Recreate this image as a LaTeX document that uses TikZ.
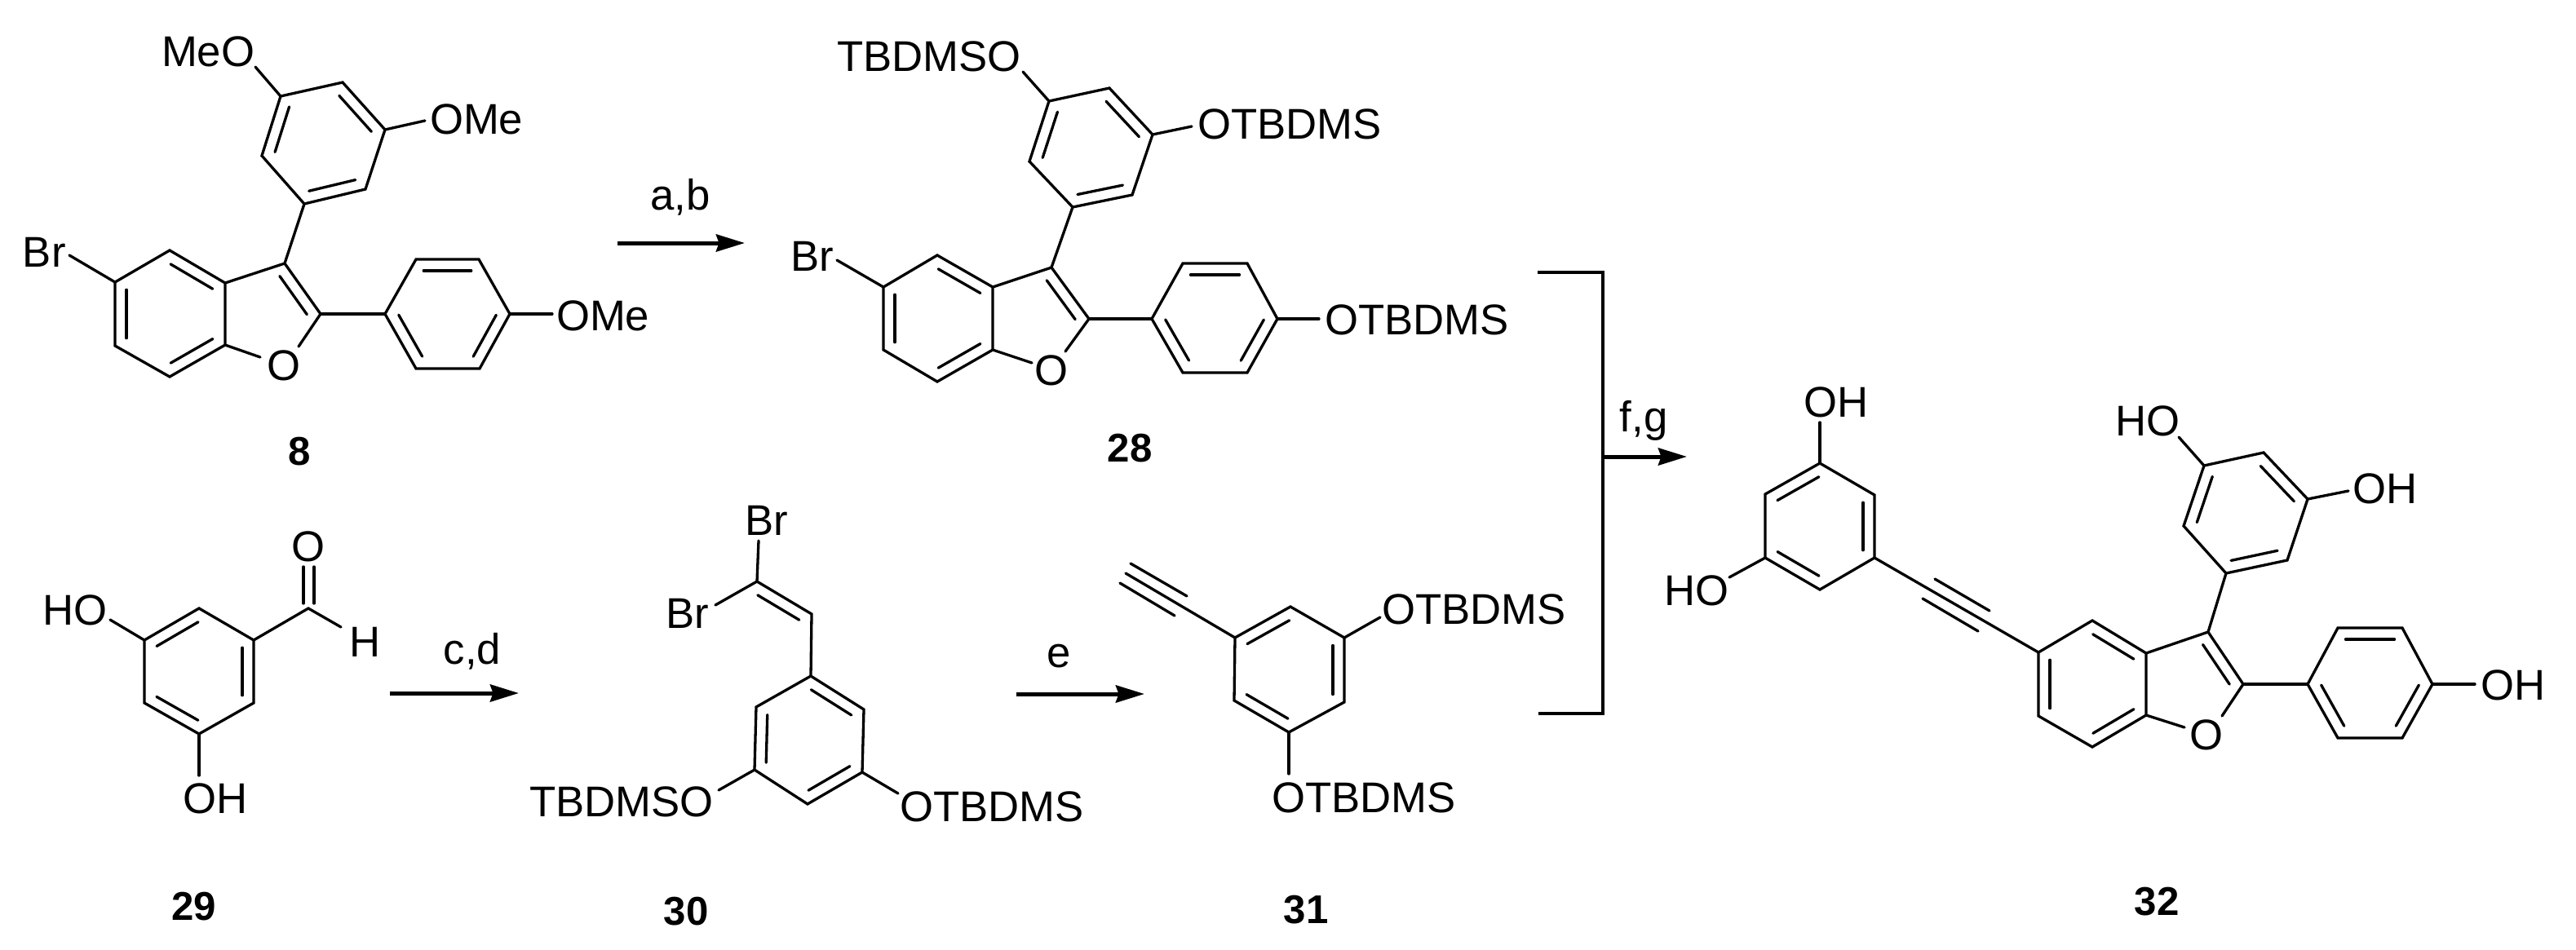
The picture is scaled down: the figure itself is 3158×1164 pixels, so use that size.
\documentclass[tikz,border=0pt]{standalone}
\usepackage{fontspec}
\setmainfont{Liberation Sans}
\usetikzlibrary{calc,arrows.meta}
\tikzset{
  bond/.style={line width=0.066cm,line cap=round,line join=miter},
  innerbond/.style={line width=0.066cm,line cap=round},
  rxn/.style={line width=0.1cm,-{Stealth[length=0.7cm,width=0.42cm,inset=0.07cm]}},
  brk/.style={line width=0.066cm,line join=miter},
  lab/.style={inner sep=0pt,outer sep=0pt,anchor=base west,font=\fontsize{30pt}{36pt}\selectfont},
  tb/.style={lab},
  cond/.style={inner sep=0pt,outer sep=0pt,anchor=base,font=\fontsize{30pt}{36pt}\selectfont},
  num/.style={inner sep=0pt,outer sep=0pt,anchor=base,font=\fontsize{28pt}{36pt}\selectfont\bfseries}
}
\newcommand{\dbond}[2]{\draw[innerbond] ($(#1)!.12!(#2)!0.28cm!-90:(#2)$) -- ($(#2)!.12!(#1)!0.28cm!90:(#1)$);}
\newcommand{\pts}[1]{\foreach \x/\y/\n in {#1}{\coordinate (\n) at (\x,\y);}}
\begin{document}
\begin{tikzpicture}[x=0.02cm,y=-0.02cm]
\useasboundingbox (0,0) rectangle (3158,1164);
% ---------- compound 8
\pts{344/118/a1,420/101/a2,472/159/a3,448/232/a4,373/250/a5,321/191/a6,313/82/a1e,521/148/a3e,
349/323/ac3,393/385/ac2,276/347/ac3a,276/423/ac7a,208/307/ac4,141/346/ac5,141/424/ac6,208/462/ac7,
319/438/aoa,366/425/aob,85/313/abr,472/385/ap1,510/318/ap2,587/318/ap3,625/385/ap4,588/452/ap5,510/452/ap6,677/385/ape}
\draw[bond] (a1)--(a2)--(a3)--(a4)--(a5)--(a6)--cycle;
\dbond{a2}{a3}\dbond{a4}{a5}\dbond{a6}{a1}
\draw[bond] (a1)--(a1e); \draw[bond] (a3)--(a3e); \draw[bond] (a5)--(ac3);
\draw[bond] (ac4)--(ac3a)--(ac7a)--(ac7)--(ac6)--(ac5)--cycle;
\draw[bond] (ac3a)--(ac3)--(ac2); \draw[bond] (ac7a)--(aoa); \draw[bond] (ac2)--(aob); \draw[bond] (ac5)--(abr);
\dbond{ac4}{ac3a}\dbond{ac7a}{ac7}\dbond{ac6}{ac5}\dbond{ac3}{ac2}
\draw[bond] (ap1)--(ap2)--(ap3)--(ap4)--(ap5)--(ap6)--cycle;
\dbond{ap2}{ap3}\dbond{ap4}{ap5}\dbond{ap6}{ap1}
\draw[bond] (ac2)--(ap1); \draw[bond] (ap4)--(ape);
\node[lab] (l8a) at (198,81) {MeO};
\node[lab] (l8b) at (527,164) {OMe};
\node[lab] (l8c) at (28,327) {Br};
\node[cond] (l8o) at (348,466) {O};
\node[lab] (l8d) at (682,405) {OMe};
\node[num] (n8) at (367,570) {8};
% ---------- compound 28
\pts{1286/124/b1,1360/108/b2,1413/165/b3,1388/239/b4,1315/254/b5,1262/198/b6,1254/88/b1e,1461/155/b3e,
1289/328/bc3,1335/391/bc2,1217/352/bc3a,1217/429/bc7a,1149/313/bc4,1083/352/bc5,1083/429/bc6,1149/468/bc7,
1265/445/boa,1306/431/bob,1026/319/bbr,1412/391/bp1,1450/323/bp2,1529/323/bp3,1566/391/bp4,1529/457/bp5,1450/457/bp6,1617/391/bpe}
\draw[bond] (b1)--(b2)--(b3)--(b4)--(b5)--(b6)--cycle;
\dbond{b2}{b3}\dbond{b4}{b5}\dbond{b6}{b1}
\draw[bond] (b1)--(b1e); \draw[bond] (b3)--(b3e); \draw[bond] (b5)--(bc3);
\draw[bond] (bc4)--(bc3a)--(bc7a)--(bc7)--(bc6)--(bc5)--cycle;
\draw[bond] (bc3a)--(bc3)--(bc2); \draw[bond] (bc7a)--(boa); \draw[bond] (bc2)--(bob); \draw[bond] (bc5)--(bbr);
\dbond{bc4}{bc3a}\dbond{bc7a}{bc7}\dbond{bc6}{bc5}\dbond{bc3}{bc2}
\draw[bond] (bp1)--(bp2)--(bp3)--(bp4)--(bp5)--(bp6)--cycle;
\dbond{bp2}{bp3}\dbond{bp4}{bp5}\dbond{bp6}{bp1}
\draw[bond] (bc2)--(bp1); \draw[bond] (bp4)--(bpe);
\node[tb] (l28a) at (1026,87) {TBDMSO};
\node[tb] (l28b) at (1468,170) {OTBDMS};
\node[lab] (l28c) at (969,332) {Br};
\node[cond] (l28o) at (1289,472) {O};
\node[tb] (l28d) at (1624,410) {OTBDMS};
\node[num] (n28) at (1385,566) {28};
% ---------- compound 29
\pts{177/785/c1,244/746/c2,311/785/c3,311/862/c4,244/900/c5,177/862/c6,378/746/cc,418/769/che,135/760/c1e,244/951/c5e,
372/740/co1,372/695/co2,385/740/co3,385/695/co4}
\draw[bond] (c1)--(c2)--(c3)--(c4)--(c5)--(c6)--cycle;
\dbond{c1}{c2}\dbond{c3}{c4}\dbond{c5}{c6}
\draw[bond] (c3)--(cc)--(che); \draw[bond] (c1)--(c1e); \draw[bond] (c5)--(c5e);
\draw[bond] (co1)--(co2); \draw[bond] (co3)--(co4);
\node[lab] (l29a) at (52,766) {HO};
\node[cond] (l29o) at (378,688) {O};
\node[lab] (l29h) at (428,805) {H};
\node[lab] (l29b) at (224,997) {OH};
\node[num] (n29) at (238,1128) {29};
% ---------- compound 30
\pts{925/944/d1,927/867/d2,994/829/d3,1059/870/d4,1057/947/d5,990/986/d6,995/753/dv,928/713/dc,930/663/dbr1,877/742/dbr2,881/969/d1e,1101/973/d5e}
\draw[bond] (d1)--(d2)--(d3)--(d4)--(d5)--(d6)--cycle;
\dbond{d1}{d2}\dbond{d3}{d4}\dbond{d5}{d6}
\draw[bond] (d3)--(dv)--(dc); \dbond{dc}{dv}
\draw[bond] (dc)--(dbr1); \draw[bond] (dc)--(dbr2); \draw[bond] (d1)--(d1e); \draw[bond] (d5)--(d5e);
\node[lab] (l30a) at (913,656) {Br};
\node[lab] (l30b) at (816,770) {Br};
\node[tb] (l30c) at (649,1001) {TBDMSO};
\node[tb] (l30d) at (1103,1007) {OTBDMS};
\node[num] (n30) at (841,1134) {30};
% ---------- compound 31
\pts{1514/782/e1,1582/744/e2,1648/782/e3,1648/861/e4,1580/898/e5,1513/859/e6,1380/703/ey,1386/691/ey1,1455/731/ey2,1373/715/ey3,1440/755/ey4,1692/757/e3e,1580/949/e5e}
\draw[bond] (e1)--(e2)--(e3)--(e4)--(e5)--(e6)--cycle;
\dbond{e1}{e2}\dbond{e3}{e4}\dbond{e5}{e6}
\draw[bond] (e1)--(ey); \draw[bond] (ey1)--(ey2); \draw[bond] (ey3)--(ey4);
\draw[bond] (e3)--(e3e); \draw[bond] (e5)--(e5e);
\node[tb] (l31a) at (1694,765) {OTBDMS};
\node[tb] (l31b) at (1559,996) {OTBDMS};
\node[num] (n31) at (1601,1132) {31};
% ---------- compound 32
\pts{2231/568/u1,2298/607/u2,2298/684/u3,2231/723/u4,2164/684/u5,2164/606/u6,2231/518/u1e,2120/708/u5e,
2372/710/uy1,2439/749/uy2,2357/734/uy3,2425/774/uy4,
2499/800/vc5,2565/761/vc4,2631/801/vc3a,2631/877/vc7a,2565/916/vc7,2499/878/vc6,2707/775/vc3,2750/839/vc2,2678/892/voa,2724/878/vob,
2702/571/w1,2775/555/w2,2829/612/w3,2804/687/w4,2729/703/w5,2677/645/w6,2671/536/w1e,2879/602/w3e,
2829/839/x1,2866/770/x2,2945/770/x3,2982/839/x4,2945/905/x5,2866/905/x6,3034/839/x4e}
\draw[bond] (u1)--(u2)--(u3)--(u4)--(u5)--(u6)--cycle;
\dbond{u2}{u3}\dbond{u4}{u5}\dbond{u6}{u1}
\draw[bond] (u1)--(u1e); \draw[bond] (u5)--(u5e); \draw[bond] (u3)--(vc5);
\draw[bond] (uy1)--(uy2); \draw[bond] (uy3)--(uy4);
\draw[bond] (vc4)--(vc3a)--(vc7a)--(vc7)--(vc6)--(vc5)--cycle;
\draw[bond] (vc3a)--(vc3)--(vc2); \draw[bond] (vc7a)--(voa); \draw[bond] (vc2)--(vob);
\dbond{vc4}{vc3a}\dbond{vc7a}{vc7}\dbond{vc6}{vc5}\dbond{vc3}{vc2}
\draw[bond] (w1)--(w2)--(w3)--(w4)--(w5)--(w6)--cycle;
\dbond{w2}{w3}\dbond{w4}{w5}\dbond{w6}{w1}
\draw[bond] (w5)--(vc3); \draw[bond] (w1)--(w1e); \draw[bond] (w3)--(w3e);
\draw[bond] (x1)--(x2)--(x3)--(x4)--(x5)--(x6)--cycle;
\dbond{x2}{x3}\dbond{x4}{x5}\dbond{x6}{x1}
\draw[bond] (vc2)--(x1); \draw[bond] (x4)--(x4e);
\node[lab] (l32a) at (2211,511) {OH};
\node[lab] (l32b) at (2040,742) {HO};
\node[lab] (l32c) at (2593,534) {HO};
\node[lab] (l32d) at (2884,617) {OH};
\node[cond] (l32o) at (2705,919) {O};
\node[lab] (l32e) at (3041,858) {OH};
\node[num] (n32) at (2644,1122) {32};
% ---------- arrows and bracket
\pts{757/298/ra1,913/298/ra2,478/850/rb1,636/850/rb2,1246/851/rc1,1403/851/rc2,1885/334/br1,1965/334/br2,1965/875/br3,1886/875/br4,1965/560/rd1,2068/560/rd2}
\draw[rxn] (ra1)--(ra2);
\draw[rxn] (rb1)--(rb2);
\draw[rxn] (rc1)--(rc2);
\draw[brk] (br1)--(br2)--(br3)--(br4);
\draw[rxn] (rd1)--(rd2);
\node[cond] (ca) at (834,257) {a,b};
\node[cond] (cb) at (579,814) {c,d};
\node[cond] (cc1) at (1298,818) {e};
\node[cond] (cd) at (2015,529) {f,g};
\end{tikzpicture}
\end{document}
